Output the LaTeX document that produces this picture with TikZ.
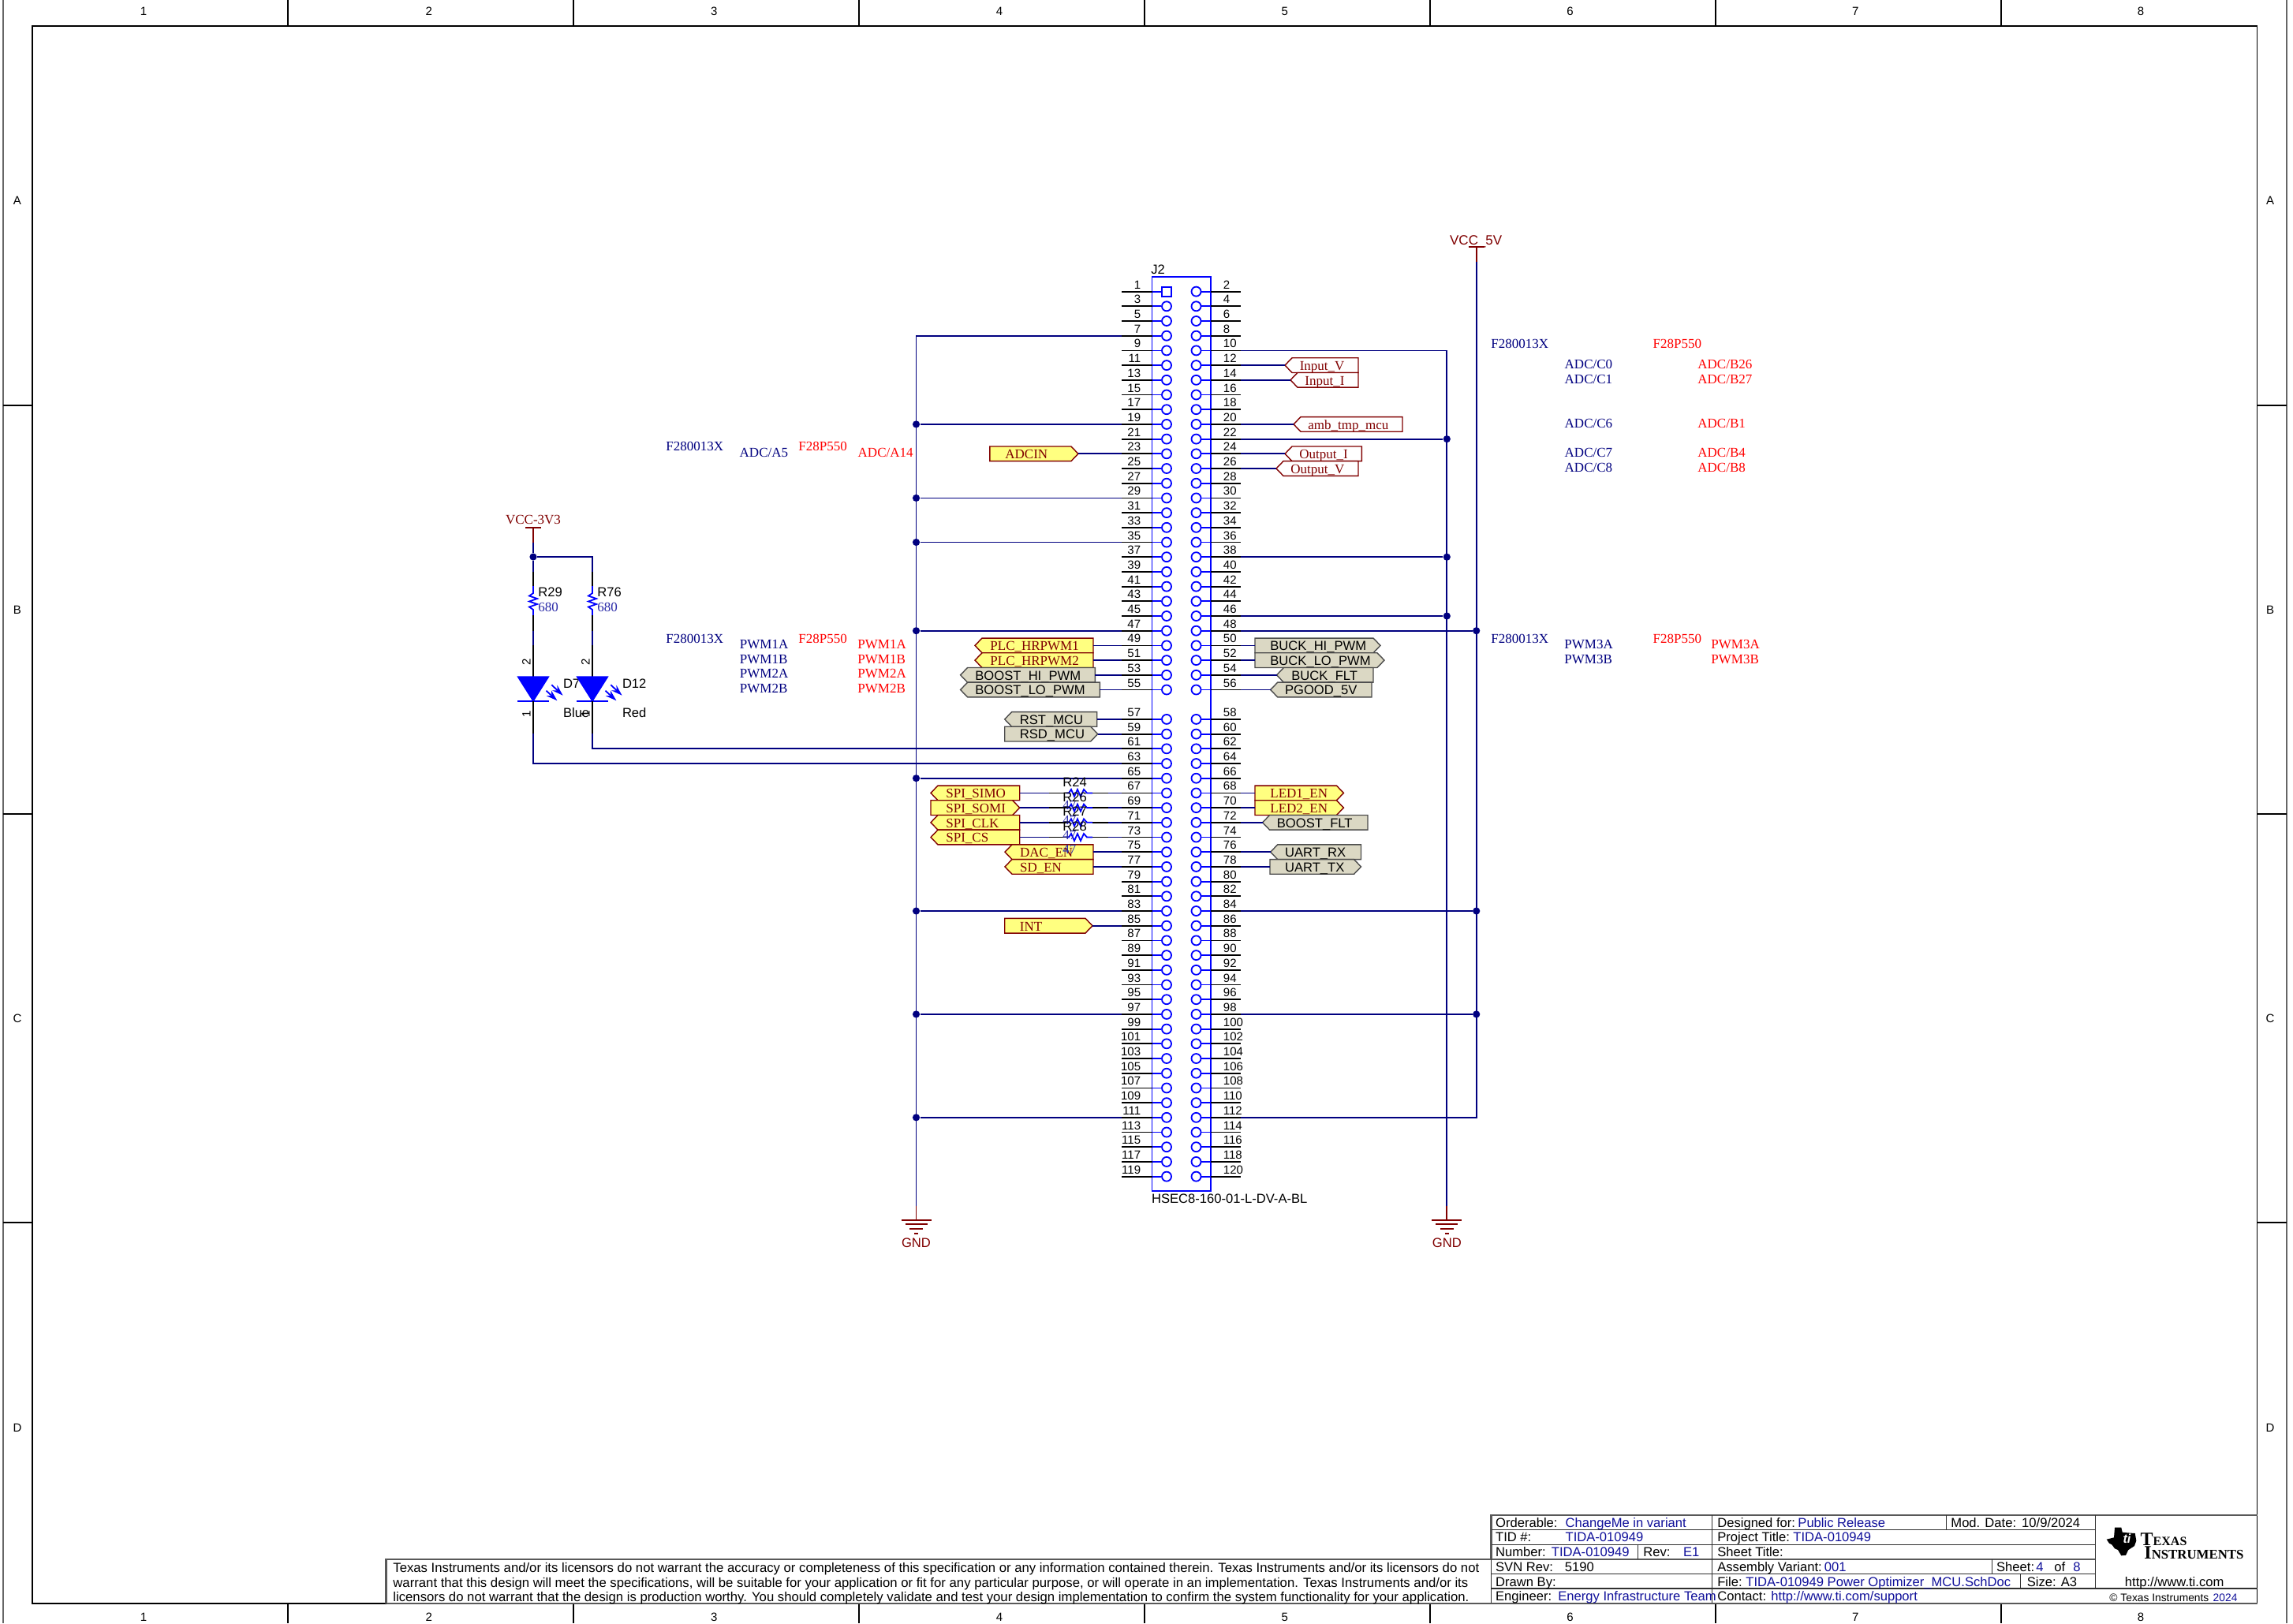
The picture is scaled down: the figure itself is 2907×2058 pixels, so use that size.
\documentclass[tikz,border=0pt]{standalone}
\usepackage{fontspec}
\setmainfont{Liberation Serif}
\setsansfont{Liberation Sans}
\usetikzlibrary{arrows.meta}
\definecolor{navyw}{HTML}{000080}
\definecolor{pinblue}{HTML}{0000FF}
\definecolor{tiblue}{HTML}{10109A}
\definecolor{dred}{HTML}{800000}
\definecolor{fillY}{HTML}{FFFF80}
\definecolor{fillS}{HTML}{DBD8C4}
\definecolor{valblue}{HTML}{2A2AA8}
\definecolor{tbgray}{HTML}{303030}
\tikzset{
  wire/.style={draw=navyw,line width=0.9pt},
  stub/.style={draw=black,line width=0.9pt},
  pinb/.style={draw=pinblue,line width=0.9pt},
  pinc/.style={circle,draw=pinblue,line width=0.9pt,fill=white,minimum size=6pt,inner sep=0},
  pinsq/.style={rectangle,draw=pinblue,line width=0.9pt,fill=white,minimum size=6pt,inner sep=0},
  junc/.style={circle,fill=navyw,minimum size=4.6pt,inner sep=0},
  pwr/.style={draw=dred,line width=0.9pt},
  frameln/.style={draw=black,line width=0.7pt},
  tbln/.style={draw=tbgray,line width=0.6pt},
  tbthick/.style={draw=tbgray!80,line width=1.1pt},
  snum/.style={font=\fontsize{7.5pt}{9pt}\sffamily,text=black},
  slab/.style={font=\fontsize{8.3pt}{10pt}\sffamily,text=black},
  rlab/.style={font=\fontsize{8.5pt}{10pt}\rmfamily},
  blueT/.style={rlab,text=navyw},
  redT/.style={rlab,text=red},
  dredT/.style={rlab,text=dred},
  valT/.style={rlab,text=valblue},
  tbK/.style={font=\fontsize{8.3pt}{10pt}\sffamily,text=black},
  tbB/.style={font=\fontsize{8.3pt}{10pt}\sffamily,text=tiblue},
  tbD/.style={font=\fontsize{8.36pt}{10pt}\sffamily,text=black},
  portY/.style={draw=dred,fill=fillY,line width=0.7pt},
  portS/.style={draw=black!70,fill=fillS,line width=0.7pt},
  portW/.style={draw=dred,fill=white,line width=0.7pt},
  portYtxt/.style={rlab,text=dred},
  portWtxt/.style={rlab,text=dred},
  portStxt/.style={slab},
}
% #1 id, #2 left x, #3 right x, #4 row coordinate, #5 L/R pointing, #6 style, #7 text x, #8 text
\newcommand{\sigport}[8]{%
  \begin{scope}[shift={(0,0 |- #4)}]
    \if#5L
      \path[#6] (#2,0) -- (#2+9,-9.35) -- (#3,-9.35) -- (#3,9.35) -- (#2+9,9.35) -- cycle;
    \else
      \path[#6] (#2,-9.35) -- (#3-9,-9.35) -- (#3,0) -- (#3-9,9.35) -- (#2,9.35) -- cycle;
    \fi
    \coordinate (#1-w) at (#2,0);
    \coordinate (#1-e) at (#3,0);
    \node[#6txt,anchor=base west,inner sep=0] (#1) at (#7,6.3) {#8};
  \end{scope}}
\newcommand{\lab}[5]{\node[anchor=base west,inner sep=0,#4] (#1) at (#2,#3+6.2) {#5};}
% horizontal resistor body on the row of a pin
\newcommand{\hres}[2]{%
  \begin{scope}[shift={(0,0 |- #2)}]
    \coordinate (#1-a) at (1330,0);
    \coordinate (#1-b) at (1405,0);
    \draw[stub] (#1-a) -- (1352,0);
    \draw[stub] (1385,0) -- (#1-b);
    \draw[pinb] (1352,0) -- (1355,0) -- (1358,-4.5) -- (1362,4.5) -- (1366,-4.5) -- (1370,4.5) -- (1374,-4.5) -- (1378,0) -- (1385,0);
  \end{scope}}
\newcommand{\hreslab}[4]{%
  \begin{scope}[shift={(0,0 |- #2)}]
    \node[slab,anchor=base west,inner sep=0] (#1) at (1347,-13.7+5.6) {#3};
    \node[valT,anchor=base west,inner sep=0] (#1v) at (1347,15.7+5.6) {#4};
  \end{scope}}
% vertical resistor and LED at x
\newcommand{\ledbranch}[5]{%
  \begin{scope}[shift={(#2,0)}]
    \draw[stub] (0,725) -- (0,743);
    \draw[pinb] (0,743) -- (0,752) -- (-5,755.5) -- (5,759) -- (-5,762.5) -- (5,766) -- (-5,769.5) -- (0,773) -- (0,780);
    \draw[stub] (0,780) -- (0,800);
    \draw[wire] (0,800) -- (0,818);
    \draw[stub] (0,818) -- (0,860);
    \path[fill=pinblue,draw=pinblue,line width=0.6pt] (-19.6,858) -- (19.6,858) -- (0,889) -- cycle;
    \draw[pinb] (-19.6,889) -- (19.6,889);
    \draw[pinblue,line width=0.9pt,-{Stealth[length=7pt,width=4.5pt]}] (23.3,868.3) -- (37.6,881.7);
    \draw[pinblue,line width=0.9pt,-{Stealth[length=7pt,width=4.5pt]}] (16.5,875.7) -- (30.4,888.3);
    \draw[stub] (0,889) -- (0,930);
    \coordinate (#1-top) at (0,725);
    \coordinate (#1-bot) at (0,930);
    \node[snum,rotate=90,inner sep=0] (#1pa) at (-8.5,839) {2};
    \node[snum,rotate=90,inner sep=0] (#1pk) at (-8.5,905) {1};
    \node[slab,anchor=base west,inner sep=0] (#1rn) at (6,751+5.8) {#3};
    \node[valT,anchor=base west,inner sep=0] (#1rv) at (6,769.3+5.8) {680};
    \node[slab,anchor=base west,inner sep=0] (#1dn) at (37.6,866.7+5.8) {#4};
    \node[slab,anchor=base west,inner sep=0] (#1dv) at (37.6,904+5.8) {#5};
  \end{scope}}
\newcommand{\gndsym}[2]{%
  \begin{scope}[shift={(#2,0)}]
    \draw[pwr] (0,1529) -- (0,1546.7);
    \draw[pwr] (-19,1546.7) -- (19,1546.7);
    \draw[pwr] (-14,1552.3) -- (14,1552.3);
    \draw[pwr] (-8.5,1558) -- (8.5,1558);
    \draw[pwr] (-2.5,1564) -- (2.5,1564);
    \coordinate (#1-top) at (0,1529);
    \node[font=\fontsize{8.3pt}{10pt}\sffamily,text=dred,anchor=base,inner sep=0] (#1) at (0,1575.7+5.8) {GND};
  \end{scope}}
\begin{document}
\begin{tikzpicture}[x=0.5pt,y=-0.5pt]
\useasboundingbox (0,0) rectangle (2907,2058);
\fill[white] (0,0) rectangle (2907,2058);
% ---------- frame
\draw[frameln] (41,33) rectangle (2861.7,2033);
\draw[draw=black!60,line width=1pt] (3.5,0) -- (3.5,2058);
\draw[draw=black!60,line width=1pt] (2899,0) -- (2899,2058);
\foreach \k in {1,...,7}{
  \pgfmathsetmacro\xx{3+362*\k}
  \draw[frameln] (\xx,0) -- (\xx,33);
  \draw[frameln] (\xx,2033) -- (\xx,2058);
}
\foreach \k in {1,...,8}{
  \pgfmathsetmacro\xx{182+361.7*(\k-1)}
  \node[snum,inner sep=0,anchor=base] (ct\k) at (\xx,14+5) {\k};
  \node[snum,inner sep=0,anchor=base] (cb\k) at (\xx,2050+5) {\k};
}
\foreach \yy in {514,1032,1550}{
  \draw[frameln] (3.5,\yy) -- (41,\yy);
  \draw[frameln] (2861.7,\yy) -- (2899,\yy);
}
\foreach \lb/\yy in {A/254,B/773,C/1291,D/1810}{
  \node[snum,inner sep=0,anchor=base] (rl\lb) at (22,\yy+5) {\lb};
  \node[snum,inner sep=0,anchor=base] (rr\lb) at (2878,\yy+5) {\lb};
}
% ---------- connector J2
\draw[pinb] (1460.5,351) rectangle (1535,1509.7);
\foreach \n in {1,3,...,119}{
  \pgfmathtruncatemacro\ix{(\n-1)/2}
  \pgfmathsetmacro\yy{369.6+18.7*(\ix+(\ix>27))}
  \ifnum\n=1 \def\ps{pinsq}\else\def\ps{pinc}\fi
  \coordinate (PL\n) at (1422.4,\yy);
  \coordinate (BL\n) at (1460.5,\yy);
  \node[\ps] (CL\n) at (1479,\yy) {};
  \draw[stub] (PL\n) -- (BL\n);
  \draw[pinb] (BL\n) -- (CL\n);
  \node[snum,anchor=base east,inner sep=0] (NL\n) at (1446.5,\yy-8.7+5.2) {\n};
}
\foreach \n in {2,4,...,120}{
  \pgfmathtruncatemacro\ix{(\n-2)/2}
  \pgfmathsetmacro\yy{369.6+18.7*(\ix+(\ix>27))}
  \coordinate (PR\n) at (1573,\yy);
  \coordinate (BR\n) at (1535,\yy);
  \node[pinc] (CR\n) at (1516.5,\yy) {};
  \draw[stub] (BR\n) -- (PR\n);
  \draw[pinb] (BR\n) -- (CR\n);
  \node[snum,anchor=base west,inner sep=0] (NR\n) at (1550.5,\yy-8.7+5.2) {\n};
}
\lab{J2}{1459}{340.8}{slab}{J2}
\lab{J2part}{1459.6}{1519.4}{slab}{HSEC8-160-01-L-DV-A-BL}
% ---------- ground and supply symbols
\gndsym{gndA}{1161.5}
\gndsym{gndB}{1834.3}
\coordinate (busL) at (1161.5,0);
\coordinate (busG) at (1834.3,0);
\coordinate (busV) at (1871.7,0);
% left ground bus
\draw[wire] (PL7) -| (gndA-top);
\foreach \n in {19,29,35,47,65,83,97,111}{
  \node[junc] (jL\n) at (busL |- PL\n) {};
  \draw[wire] (jL\n) -- (PL\n);
}
% right ground bus
\draw[wire] (PR10) -| (gndB-top);
\foreach \n in {22,38,46}{
  \node[junc] (jG\n) at (busG |- PR\n) {};
  \draw[wire] (PR\n) -- (jG\n);
}
% 5V bus
\coordinate (v5top) at (1871.7,331.7);
\draw[pwr] (1871.7,313.3) -- (v5top);
\draw[pwr] (1861.7,313.3) -- (1881.7,313.3);
\draw[wire] (v5top) |- (PR112);
\foreach \n in {48,84,98}{
  \node[junc] (jV\n) at (busV |- PR\n) {};
  \draw[wire] (PR\n) -- (jV\n);
}
\node[font=\fontsize{8.5pt}{10pt}\sffamily,text=dred,anchor=base,inner sep=0] (vcc5) at (1871.2,304.3+6.2) {VCC\_5V};
% ---------- LED branches
\coordinate (v33top) at (676,687.7);
\draw[pwr] (676,669) -- (v33top);
\draw[pwr] (666.4,669) -- (686,669);
\node[dredT,anchor=base,inner sep=0] (vcc33) at (676,659.3+5.6) {VCC-3V3};
\ledbranch{ledA}{676}{R29}{D7}{Blue}
\ledbranch{ledB}{751}{R76}{D12}{Red}
\node[junc] (j33) at (676,706) {};
\draw[wire] (v33top) -- (j33) -- (ledA-top);
\draw[wire] (j33) -| (ledB-top);
\draw[wire] (ledA-bot) |- (PL63);
\draw[wire] (ledB-bot) |- (PL61);
% ---------- series resistors
\hres{rA}{PL67}
\hres{rB}{PL69}
\hres{rC}{PL71}
\hres{rD}{PL73}
\draw[wire] (rA-b) -- (PL67);
\draw[wire] (rB-b) -- (PL69);
\draw[wire] (rC-b) -- (PL71);
\draw[wire] (rD-b) -- (PL73);
% ---------- ports
\sigport{pADCIN}{1254.8}{1366.9}{PL23}{R}{portY}{1274}{ADCIN}
\sigport{pInV}{1629}{1722}{PR12}{L}{portW}{1647.4}{Input\_V}
\sigport{pInI}{1636}{1722}{PR14}{L}{portW}{1654}{Input\_I}
\sigport{pAmb}{1640}{1778}{PR20}{L}{portW}{1658}{amb\_tmp\_mcu}
\sigport{pOutI}{1629}{1726.4}{PR24}{L}{portW}{1647}{Output\_I}
\sigport{pOutV}{1618}{1722}{PR26}{L}{portW}{1636}{Output\_V}
\sigport{pPLCa}{1236}{1386}{PL49}{L}{portY}{1255}{PLC\_HRPWM1}
\sigport{pPLCb}{1236}{1386}{PL51}{L}{portY}{1255}{PLC\_HRPWM2}
\sigport{pBHi}{1217.6}{1388.4}{PL53}{L}{portS}{1236}{BOOST\_HI\_PWM}
\sigport{pBLo}{1217.6}{1394.4}{PL55}{L}{portS}{1236}{BOOST\_LO\_PWM}
\sigport{pBuHi}{1591}{1750}{PR50}{R}{portS}{1610}{BUCK\_HI\_PWM}
\sigport{pBuLo}{1591}{1755}{PR52}{R}{portS}{1610}{BUCK\_LO\_PWM}
\sigport{pBuF}{1618.5}{1741}{PR54}{L}{portS}{1637}{BUCK\_FLT}
\sigport{pPG}{1610.7}{1739}{PR56}{L}{portS}{1628.6}{PGOOD\_5V}
\sigport{pRST}{1273.7}{1390.7}{PL57}{L}{portS}{1292.5}{RST\_MCU}
\sigport{pRSD}{1273.7}{1391.7}{PL59}{R}{portS}{1292.5}{RSD\_MCU}
\sigport{pSIMO}{1180}{1292.7}{PL67}{L}{portY}{1199}{SPI\_SIMO}
\sigport{pSOMI}{1180}{1292.7}{PL69}{R}{portY}{1199}{SPI\_SOMI}
\sigport{pCLK}{1180}{1292.7}{PL71}{L}{portY}{1199}{SPI\_CLK}
\sigport{pCS}{1180}{1292.7}{PL73}{L}{portY}{1199}{SPI\_CS}
\sigport{pDAC}{1274}{1386}{PL75}{L}{portY}{1292.7}{DAC\_EN}
\sigport{pSD}{1274}{1386}{PL77}{L}{portY}{1292.7}{SD\_EN}
\sigport{pINT}{1273.7}{1385}{PL85}{R}{portY}{1292.5}{INT}
\sigport{pLEDa}{1591}{1703.4}{PR68}{R}{portY}{1610}{LED1\_EN}
\sigport{pLEDb}{1591}{1703.4}{PR70}{R}{portY}{1610}{LED2\_EN}
\sigport{pBFlt}{1600.6}{1734}{PR72}{L}{portS}{1618.5}{BOOST\_FLT}
\sigport{pRX}{1610.7}{1725.5}{PR76}{L}{portS}{1628.6}{UART\_RX}
\sigport{pTX}{1610}{1725.5}{PR78}{R}{portS}{1628.6}{UART\_TX}
% port wires
\foreach \p/\q in {pADCIN/PL23,pPLCa/PL49,pPLCb/PL51,pBHi/PL53,pBLo/PL55,pRST/PL57,pRSD/PL59,pDAC/PL75,pSD/PL77,pINT/PL85}{
  \draw[wire] (\p-e) -- (\q);
}
\foreach \p/\q in {pInV/PR12,pInI/PR14,pAmb/PR20,pOutI/PR24,pOutV/PR26,pBuHi/PR50,pBuLo/PR52,pBuF/PR54,pPG/PR56,pLEDa/PR68,pLEDb/PR70,pBFlt/PR72,pRX/PR76,pTX/PR78}{
  \draw[wire] (\q) -- (\p-w);
}
\draw[wire] (pSIMO-e) -- (rA-a);
\draw[wire] (pSOMI-e) -- (rB-a);
\draw[wire] (pCLK-e) -- (rC-a);
\draw[wire] (pCS-e) -- (rD-a);
\hreslab{R24}{PL67}{R24}{47}
\hreslab{R26}{PL69}{R26}{47}
\hreslab{R27}{PL71}{R27}{47}
\hreslab{R28}{PL73}{R28}{47}
% ---------- annotation texts
\lab{tA1}{844}{565.7}{blueT}{F280013X}
\lab{tA2}{937.3}{573.3}{blueT}{ADC/A5}
\lab{tA3}{1012}{565.7}{redT}{F28P550}
\lab{tA4}{1087.3}{573.3}{redT}{ADC/A14}
\lab{tB1}{844}{809}{blueT}{F280013X}
\lab{tB2}{937.5}{816.7}{blueT}{PWM1A}
\lab{tB3}{937.5}{835.3}{blueT}{PWM1B}
\lab{tB4}{937.5}{853.7}{blueT}{PWM2A}
\lab{tB5}{937.5}{872.3}{blueT}{PWM2B}
\lab{tB6}{1012}{809}{redT}{F28P550}
\lab{tB7}{1087}{816.7}{redT}{PWM1A}
\lab{tB8}{1087}{835.3}{redT}{PWM1B}
\lab{tB9}{1087}{853.7}{redT}{PWM2A}
\lab{tB10}{1087}{872.3}{redT}{PWM2B}
\lab{tC1}{1890}{435.3}{blueT}{F280013X}
\lab{tC2}{1983.3}{461.7}{blueT}{ADC/C0}
\lab{tC3}{1983.3}{480.3}{blueT}{ADC/C1}
\lab{tC4}{1983.3}{536.3}{blueT}{ADC/C6}
\lab{tC5}{1983.3}{573.3}{blueT}{ADC/C7}
\lab{tC6}{1983.3}{592.3}{blueT}{ADC/C8}
\lab{tC7}{2095.3}{435.3}{redT}{F28P550}
\lab{tC8}{2152}{461.7}{redT}{ADC/B26}
\lab{tC9}{2152}{480.3}{redT}{ADC/B27}
\lab{tC10}{2152}{536.3}{redT}{ADC/B1}
\lab{tC11}{2152}{573.3}{redT}{ADC/B4}
\lab{tC12}{2152}{592.3}{redT}{ADC/B8}
\lab{tD1}{1890}{809}{blueT}{F280013X}
\lab{tD2}{1983}{816.7}{blueT}{PWM3A}
\lab{tD3}{1983}{835.3}{blueT}{PWM3B}
\lab{tD4}{2095.3}{809}{redT}{F28P550}
\lab{tD5}{2169}{816.7}{redT}{PWM3A}
\lab{tD6}{2169}{835.3}{redT}{PWM3B}
% ---------- title block
\draw[tbthick] (489.5,2033) -- (489.5,1976.7) -- (2656.5,1976.7);
\draw[tbthick] (1890.5,1976.7) -- (1890.5,1920.7) -- (2861.7,1920.7);
\draw[tbln] (1890.5,1976.7) -- (1890.5,2033);
\draw[tbln] (2170.3,1920.7) -- (2170.3,2033);
\draw[tbln] (2656.5,1920.7) -- (2656.5,2014);
\draw[tbln] (2467.8,1920.7) -- (2467.8,1939.3);
\draw[tbln] (2076.6,1958.3) -- (2076.6,1976.7);
\draw[tbln] (2525.5,1976.7) -- (2525.5,1995.7);
\draw[tbln] (2561.5,1995.7) -- (2561.5,2014);
\foreach \yy in {1939.3,1958.3,1995.7}{
  \draw[tbln] (1890.5,\yy) -- (2656.5,\yy);
}
\draw[tbln] (1890.5,2014) -- (2861.7,2014);
\draw[tbthick] (489.5,2033) -- (2861.7,2033);
\lab{dis1}{498}{1987.1}{tbD}{Texas Instruments and/or its licensors do not warrant the accuracy or completeness of this specification or any information contained therein. Texas Instruments and/or its licensors do not}
\lab{dis2}{498}{2006.4}{tbD}{warrant that this design will meet the specifications, will be suitable for your application or fit for any particular purpose, or will operate in an implementation. Texas Instruments and/or its}
\lab{dis3}{498}{2024.4}{tbD}{licensors do not warrant that the design is production worthy. You should completely validate and test your design implementation to confirm the system functionality for your application.}
\lab{tb1}{1895.7}{1930.4}{tbK}{Orderable:}
\lab{tb2}{1984.2}{1930.4}{tbB}{ChangeMe in variant}
\lab{tb3}{1895.7}{1948.1}{tbK}{TID \#:}
\lab{tb4}{1984.2}{1948.1}{tbB}{TIDA-010949}
\lab{tb5}{1895.7}{1967.1}{tbK}{Number:}
\lab{tb6}{1966.5}{1967.1}{tbB}{TIDA-010949}
\lab{tb7}{2083}{1967.1}{tbK}{Rev:}
\lab{tb8}{2133.6}{1967.1}{tbB}{E1}
\lab{tb9}{1895.7}{1986.1}{tbK}{SVN Rev:}
\lab{tb10}{1983.5}{1986.1}{tbK}{5190}
\lab{tb11}{1895.7}{2005.1}{tbK}{Drawn By:}
\lab{tb12}{1895.7}{2023.4}{tbK}{Engineer:}
\lab{tb13}{1975}{2023.4}{tbB}{Energy Infrastructure Team}
\lab{tb14}{2176.9}{1930.4}{tbK}{Designed for:}
\lab{tb15}{2279}{1930.4}{tbB}{Public Release}
\lab{tb16}{2473}{1930.4}{tbK}{Mod. Date:}
\lab{tb17}{2562.8}{1930.4}{tbK}{10/9/2024}
\lab{tb18}{2176.9}{1948.1}{tbK}{Project Title:}
\lab{tb19}{2273}{1948.1}{tbB}{TIDA-010949}
\lab{tb20}{2176.9}{1967.1}{tbK}{Sheet Title:}
\lab{tb21}{2176.9}{1986.1}{tbK}{Assembly Variant:}
\lab{tb22}{2312.5}{1986.1}{tbB}{001}
\lab{tb23}{2530.7}{1986.1}{tbK}{Sheet:}
\lab{tb24}{2581}{1986.1}{tbB}{4}
\lab{tb25}{2604}{1986.1}{tbK}{of}
\lab{tb26}{2628}{1986.1}{tbB}{8}
\lab{tb27}{2176.9}{2005.1}{tbK}{File:}
\lab{tb28}{2213}{2005.1}{tbB}{TIDA-010949 Power Optimizer\_MCU.SchDoc}
\lab{tb29}{2569.4}{2005.1}{tbK}{Size: A3}
\lab{tb30}{2176.9}{2023.4}{tbK}{Contact:}
\lab{tb31}{2245}{2023.4}{tbB}{http://www.ti.com/support}
\lab{tb32}{2693.5}{2005.1}{tbK}{http://www.ti.com}
\lab{tb33}{2674}{2024.4}{tbK,font=\fontsize{6.9pt}{8pt}\sffamily}{© Texas Instruments}
\lab{tb34}{2805.3}{2024.4}{tbB,font=\fontsize{6.9pt}{8pt}\sffamily}{2024}
% ---------- logo
\fill[black] (2670.7,1951.7) -- (2680,1949.3) -- (2681,1936.7) -- (2689.3,1936.7) -- (2690.7,1942.7) -- (2696.7,1943.3) -- (2706.7,1944) -- (2708.3,1953.3) -- (2706,1960) -- (2698.3,1965) -- (2695,1971.7) -- (2689.3,1972.3) -- (2685,1965) -- (2681,1963.3) -- (2677.3,1958.3) -- (2674,1956.7) -- cycle;
\node[font=\fontsize{8pt}{9pt}\sffamily\bfseries\itshape,text=white,inner sep=0] (logoti) at (2696.5,1951) {ti};
\node[anchor=base west,inner sep=0,text=black,font=\fontsize{12pt}{14pt}\rmfamily\bfseries] (logoA) at (2713.3,1959.3) {T{\fontsize{8pt}{10pt}\selectfont EXAS}};
\node[anchor=base west,inner sep=0,text=black,font=\fontsize{12pt}{14pt}\rmfamily\bfseries] (logoB) at (2718,1976.7) {I{\fontsize{8.4pt}{10pt}\selectfont NSTRUMENTS}};
\end{tikzpicture}
\end{document}
